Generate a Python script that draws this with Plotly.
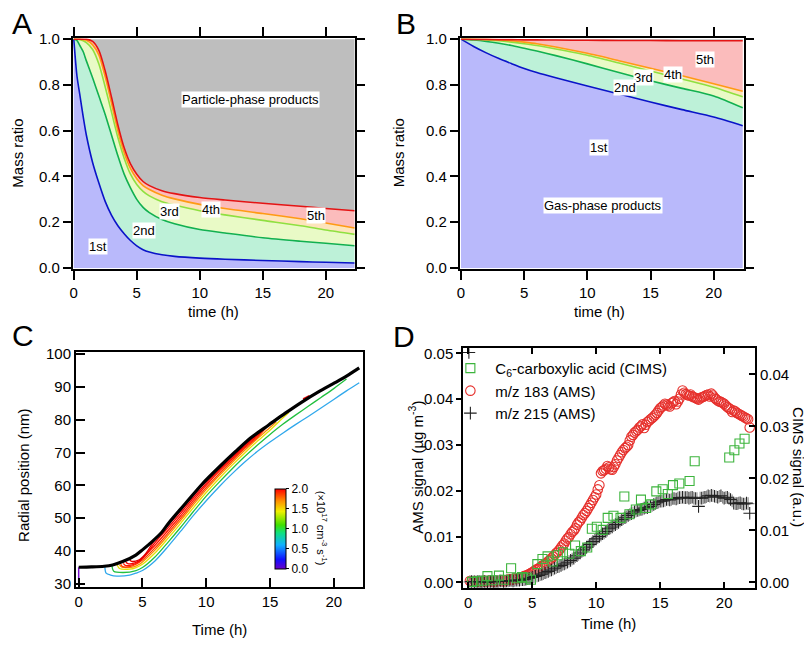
import plotly.graph_objects as go

# page body has an 8px default margin: the figure is drawn 8px right/down
OFF = 8
W, H = 812 - OFF, 647 - OFF
FONT = "Liberation Sans, Arial, Helvetica, sans-serif"


def px(x):
    return (x - OFF) / W


def py(y):
    return 1 - (y - OFF) / H


# ---------------- Panel A : mass ratio (particle) ----------------
a_time = [0, 0.25, 0.5, 0.75, 1, 1.5, 2, 2.5, 3, 3.5, 4, 4.5, 5, 5.5, 6, 7, 8, 10, 12, 15, 18, 20, 22.3]
a_1st = [1.0, 0.84, 0.75, 0.66, 0.58, 0.46, 0.37, 0.29, 0.23, 0.185, 0.15, 0.12, 0.097, 0.08, 0.07, 0.058, 0.051, 0.043, 0.038, 0.033, 0.028, 0.025, 0.022]
a_2nd = [1.0, 0.995, 0.97, 0.945, 0.905, 0.83, 0.75, 0.67, 0.58, 0.49, 0.41, 0.35, 0.30, 0.265, 0.242, 0.212, 0.193, 0.168, 0.153, 0.132, 0.117, 0.108, 0.097]
a_3rd = [1.0, 1.0, 0.998, 0.993, 0.985, 0.955, 0.89, 0.79, 0.68, 0.57, 0.48, 0.41, 0.365, 0.335, 0.315, 0.29, 0.275, 0.25, 0.232, 0.208, 0.185, 0.166, 0.147]
a_4th = [1.0, 1.0, 1.0, 0.998, 0.995, 0.975, 0.93, 0.835, 0.72, 0.60, 0.505, 0.435, 0.39, 0.36, 0.343, 0.318, 0.302, 0.278, 0.26, 0.238, 0.215, 0.197, 0.175]
a_5th = [1.0, 1.0, 1.0, 1.0, 1.0, 0.99, 0.95, 0.86, 0.745, 0.625, 0.525, 0.455, 0.41, 0.378, 0.36, 0.338, 0.325, 0.308, 0.297, 0.283, 0.27, 0.26, 0.25]
a_total = [1.0] * len(a_time)

# ---------------- Panel B : mass ratio (gas) ----------------
b_time = [0, 1, 2, 3, 4, 5, 6, 7.5, 10, 12.5, 15, 17.5, 20, 22.3]
b_1st = [1.0, 0.968, 0.94, 0.915, 0.893, 0.872, 0.854, 0.831, 0.795, 0.76, 0.725, 0.692, 0.66, 0.622]
b_2nd = [1.0, 0.996, 0.99, 0.982, 0.972, 0.96, 0.948, 0.928, 0.892, 0.854, 0.818, 0.785, 0.752, 0.70]
b_3rd = [1.0, 0.999, 0.997, 0.993, 0.987, 0.98, 0.972, 0.957, 0.93, 0.896, 0.861, 0.826, 0.79, 0.748]
b_4th = [1.0, 1.0, 0.999, 0.997, 0.993, 0.987, 0.98, 0.966, 0.938, 0.906, 0.873, 0.84, 0.805, 0.772]
b_5th = [1.0, 0.999, 0.999, 0.998, 0.998, 0.997, 0.997, 0.996, 0.995, 0.994, 0.994, 0.993, 0.993, 0.993]
b_total = [1.0] * len(b_time)

band_fill = ["#b9b9fb", "#bdf1d8", "#e9fac6", "#fde4bb", "#fbbcbc"]
band_line = ["#0a14c8", "#12b050", "#8fe040", "#ff9a14", "#e41414"]
top_fill = "#bebebe"

# ---------------- Panel C : radial position ----------------
c_black_t = [0, 1, 2, 2.66, 3.5, 4.48, 5, 5.78, 6.5, 7.08, 8.4, 9.69, 11.0, 12.3, 13.5, 14.9, 16.2, 17.5, 18.8, 20.1, 21, 22]
c_black_r = [35, 35.1, 35.3, 35.7, 36.8, 38.7, 40.3, 42.9, 45.6, 48.6, 54.6, 60.4, 65.5, 70.3, 74.5, 78.4, 82.0, 85.4, 88.5, 91.3, 93.3, 95.8]
c_purple_t = [0, 0]
c_purple_r = [29.5, 35]
c_cyan_t = [2.05, 2.15, 2.5, 3, 4, 4.5, 5, 6, 7, 8, 9, 10, 11, 12, 13, 14, 15, 16, 17, 18, 19, 20, 21, 22]
c_cyan_r = [35.2, 33.2, 32.6, 32.3, 32.6, 33.2, 34.0, 37.0, 41.3, 46.0, 50.8, 55.3, 59.5, 63.4, 67.0, 70.3, 73.2, 75.9, 78.5, 81.0, 83.6, 86.2, 88.8, 91.3]
c_green_t = [2.6, 2.75, 3.5, 4.5, 5, 6, 7, 8, 9, 10, 11, 12, 13, 14, 15, 16, 17, 18, 19, 20, 21]
c_green_r = [35.6, 33.8, 33.4, 34.0, 34.9, 38.2, 42.6, 47.2, 52.0, 56.7, 60.9, 64.9, 68.7, 72.2, 75.5, 78.6, 81.4, 84.1, 86.8, 89.5, 92.4]
c_yellow_t = [3.0, 3.2, 4, 4.5, 5, 6, 7, 8, 9, 10, 11, 12, 13, 14, 15, 16, 16.5]
c_yellow_r = [35.8, 34.6, 34.4, 34.9, 35.9, 39.4, 43.8, 48.4, 53.2, 57.8, 62.0, 66.0, 69.8, 73.4, 76.8, 80.5, 82.3]
c_orange_t = [3.2, 3.4, 4.3, 4.8, 5, 6, 7, 8, 9, 10, 11, 12, 13, 14, 15, 15.5]
c_orange_r = [35.8, 35.0, 35.1, 36.0, 36.6, 40.3, 44.7, 49.3, 54.1, 58.7, 62.9, 66.8, 70.6, 74.2, 77.6, 79.4]
c_red1_t = [3.3, 3.45, 4, 4.5, 5, 6, 7, 8, 9, 10, 11, 12, 13, 14, 14.7]
c_red1_r = [35.9, 35.2, 35.2, 35.9, 37.2, 41.0, 45.4, 50.0, 54.8, 59.3, 63.5, 67.4, 71.2, 74.6, 77.6]
c_red2_t = [3.5, 3.65, 4.2, 4.7, 5, 6, 7, 8, 9, 10, 11, 12, 13, 14, 14.7]
c_red2_r = [36.2, 35.6, 35.7, 36.6, 37.8, 41.8, 46.2, 50.7, 55.5, 60.0, 64.2, 67.9, 71.6, 75.0, 77.7]
c_red3_t = [3.7, 3.85, 4.4, 4.9, 5.2, 6, 7, 8, 9, 10, 11, 12, 13, 14, 14.6]
c_red3_r = [36.6, 36.1, 36.3, 37.4, 38.5, 42.6, 47.0, 51.5, 56.2, 60.6, 64.7, 68.4, 72.0, 75.4, 77.5]
c_red4_t = [4.0, 4.15, 4.7, 5.2, 6, 7, 8, 9, 10, 11, 12, 13, 14, 14.5]
c_red4_r = [37.2, 36.8, 37.2, 38.9, 43.5, 47.8, 52.2, 56.9, 61.2, 65.2, 68.9, 72.4, 75.7, 77.3]
c_red5_t = [17.6, 18.1]
c_red5_r = [86.3, 87.3]
c_colorbar_ticks = [0, 0.5, 1.0, 1.5, 2.0]

rainbow = [[0.0, "#6a00c8"], [0.12, "#1010ff"], [0.3, "#10b0ff"], [0.45, "#10e080"],
           [0.55, "#40e000"], [0.72, "#f0f000"], [0.85, "#ff9000"], [1.0, "#ff0000"]]

# ---------------- Panel D : AMS / CIMS signals ----------------
d_grid = [round(0.25 * i, 3) for i in range(1, 89)]
d_grid_half = [round(0.25 * i + 0.125, 3) for i in range(0, 88)]
mz183 = [0.0002, 0.0003, 0.0001, 0.0002, 0.0004, 0.0002, 0.0003, 0.0001, 0.0003, 0.0004, 0.0002, 0.0005,
         0.0006, 0.0008, 0.0007, 0.0010, 0.0012, 0.0015, 0.0018, 0.0022,
         0.0027, 0.0030, 0.0036, 0.0040, 0.0046, 0.0052, 0.0060, 0.0067,
         0.0076, 0.0085, 0.0096, 0.0105, 0.0113, 0.0126, 0.0135, 0.0147,
         0.0156, 0.0168, 0.0180, 0.0192, 0.0212, 0.0243, 0.0248, 0.0251,
         0.0246, 0.0258, 0.0272, 0.0284, 0.0293, 0.0300, 0.0318, 0.0327,
         0.0333, 0.0341, 0.0337, 0.0350, 0.0356, 0.0362, 0.0370, 0.0380,
         0.0386, 0.0388, 0.0384, 0.0393, 0.0389, 0.0401, 0.0419, 0.0411,
         0.0408, 0.0406, 0.0403, 0.0399, 0.0404, 0.0407, 0.0410, 0.0412,
         0.0403, 0.0397, 0.0394, 0.0390, 0.0383, 0.0378, 0.0375, 0.0370,
         0.0366, 0.0362, 0.0358, 0.0338]
mz183_half = [0.0003, 0.0001, 0.0002, 0.0003, 0.0002, 0.0001, 0.0004, 0.0002, 0.0002, 0.0003, 0.0004, 0.0003,
              0.0006, 0.0005, 0.0008, 0.0009, 0.0010, 0.0014, 0.0016, 0.0020,
              0.0024, 0.0029, 0.0033, 0.0038, 0.0043, 0.0049, 0.0056, 0.0064,
              0.0071, 0.0081, 0.0091, 0.0099, 0.0110, 0.0118, 0.0131, 0.0141,
              0.0151, 0.0162, 0.0174, 0.0186, 0.0203, 0.0238, 0.0245, 0.0254,
              0.0247, 0.0252, 0.0266, 0.0278, 0.0289, 0.0296, 0.0310, 0.0322,
              0.0330, 0.0338, 0.0345, 0.0344, 0.0353, 0.0359, 0.0366, 0.0375,
              0.0383, 0.0390, 0.0386, 0.0391, 0.0396, 0.0395, 0.0410, 0.0414,
              0.0409, 0.0410, 0.0404, 0.0401, 0.0402, 0.0405, 0.0409, 0.0406,
              0.0408, 0.0400, 0.0395, 0.0392, 0.0386, 0.0380, 0.0372, 0.0373,
              0.0368, 0.0364, 0.0360, 0.0356]
mz215_t = [0.05] + d_grid
mz215 = [0.0502,
         0.0002, 0.0001, 0.0002, 0.0001, 0.0002, 0.0000, 0.0002, 0.0001, 0.0002, 0.0003, 0.0002, 0.0003,
         0.0004, 0.0003, 0.0005, 0.0005, 0.0006, 0.0007, 0.0009, 0.0011,
         0.0013, 0.0015, 0.0018, 0.0021, 0.0024, 0.0027, 0.0031, 0.0034,
         0.0037, 0.0040, 0.0044, 0.0048, 0.0053, 0.0058, 0.0064, 0.0071,
         0.0077, 0.0083, 0.0089, 0.0095, 0.0100, 0.0106, 0.0111, 0.0117,
         0.0121, 0.0126, 0.0131, 0.0137, 0.0141, 0.0146, 0.0150, 0.0154,
         0.0157, 0.0159, 0.0162, 0.0163, 0.0166, 0.0170, 0.0174, 0.0177,
         0.0178, 0.0181, 0.0180, 0.0183, 0.0182, 0.0185, 0.0186, 0.0185,
         0.0184, 0.0186, 0.0183, 0.0166, 0.0184, 0.0186, 0.0189, 0.0190,
         0.0188, 0.0186, 0.0189, 0.0184, 0.0186, 0.0181, 0.0173, 0.0172,
         0.0174, 0.0171, 0.0173, 0.0151]
mz215_half = [0.0001, 0.0002, 0.0001, 0.0002, 0.0001, 0.0002, 0.0001, 0.0002, 0.0002, 0.0002, 0.0003, 0.0002,
              0.0003, 0.0004, 0.0004, 0.0005, 0.0006, 0.0006, 0.0008, 0.0010,
              0.0012, 0.0014, 0.0017, 0.0019, 0.0022, 0.0026, 0.0029, 0.0032,
              0.0035, 0.0039, 0.0042, 0.0046, 0.0051, 0.0056, 0.0061, 0.0067,
              0.0074, 0.0080, 0.0086, 0.0092, 0.0098, 0.0103, 0.0108, 0.0114,
              0.0119, 0.0124, 0.0128, 0.0134, 0.0139, 0.0143, 0.0148, 0.0152,
              0.0156, 0.0158, 0.0160, 0.0163, 0.0165, 0.0168, 0.0172, 0.0175,
              0.0177, 0.0179, 0.0181, 0.0181, 0.0183, 0.0184, 0.0185, 0.0185,
              0.0186, 0.0185, 0.0184, 0.0183, 0.0184, 0.0185, 0.0187, 0.0188,
              0.0189, 0.0187, 0.0188, 0.0186, 0.0185, 0.0183, 0.0178, 0.0172,
              0.0173, 0.0172, 0.0171, 0.0172]
cims_t = [0.3, 0.7, 1.1, 1.5, 1.9, 2.4, 2.8, 3.35, 3.8, 4.2, 4.6, 4.9, 5.4, 5.8, 6.2, 6.6, 7.0, 7.4, 7.9,
          8.35, 8.8, 9.3, 9.66, 10.05, 10.5, 10.9, 11.35, 11.9, 12.2, 12.6, 13.1, 13.5, 13.9, 14.3,
          14.7, 15.2, 15.6, 16.0, 16.5, 17.3, 17.7, 20.4, 20.8, 21.2, 21.6]
cims_c6 = [0.0001, 0.0002, 0.0003, 0.0012, 0.0004, 0.0013, 0.0005, 0.0027, 0.0008, 0.0010, 0.0009, 0.0005,
           0.0035, 0.0045, 0.0050, 0.0040, 0.0052, 0.0058, 0.0055, 0.0071, 0.0060, 0.0067, 0.0103,
           0.0107, 0.0101, 0.0124, 0.0128, 0.0124, 0.0165, 0.0131, 0.0140, 0.0159, 0.0143, 0.0150,
           0.0175, 0.0179, 0.0170, 0.0187, 0.0190, 0.0195, 0.0233, 0.0240, 0.0254, 0.0267, 0.0276]

fig = go.Figure()


def stacked(t, series, total, xa, ya):
    all_series = series + [total]
    fills = band_fill + [top_fill]
    for i, (vals, fc) in enumerate(zip(all_series, fills)):
        fig.add_trace(go.Scatter(x=t, y=vals, xaxis=xa, yaxis=ya, mode="lines",
                                 line=dict(width=0, shape="spline", smoothing=0.7),
                                 fill="tozeroy" if i == 0 else "tonexty", fillcolor=fc,
                                 hoverinfo="skip", showlegend=False))
    for vals, lc in zip(series, band_line):
        fig.add_trace(go.Scatter(x=t, y=vals, xaxis=xa, yaxis=ya, mode="lines",
                                 line=dict(width=1.6, color=lc, shape="spline", smoothing=0.7),
                                 showlegend=False))


stacked(a_time, [a_1st, a_2nd, a_3rd, a_4th, a_5th], a_total, "x", "y")
stacked(b_time, [b_1st, b_2nd, b_3rd, b_4th, b_5th], b_total, "x2", "y2")

# Panel C lines
c_lines = [
    (c_purple_t, c_purple_r, "#7a10d0", 1.5),
    (c_cyan_t, c_cyan_r, "#30a8ec", 1.3),
    (c_green_t, c_green_r, "#22c040", 1.3),
    (c_yellow_t, c_yellow_r, "#e6e000", 1.3),
    (c_orange_t, c_orange_r, "#ff8a00", 1.3),
    (c_red1_t, c_red1_r, "#ff3a00", 1.3),
    (c_red2_t, c_red2_r, "#ff1800", 1.3),
    (c_red3_t, c_red3_r, "#f40000", 1.3),
    (c_red4_t, c_red4_r, "#e00000", 1.3),
    (c_red5_t, c_red5_r, "#e00000", 2.0),
]
for t, r, col, w in c_lines:
    fig.add_trace(go.Scatter(x=t, y=r, xaxis="x3", yaxis="y3", mode="lines",
                             line=dict(color=col, width=w, shape="spline", smoothing=0.8),
                             showlegend=False))
fig.add_trace(go.Scatter(x=c_black_t, y=c_black_r, xaxis="x3", yaxis="y3", mode="lines",
                         line=dict(color="black", width=3.2, shape="spline", smoothing=0.8),
                         showlegend=False))
fig.add_trace(go.Scatter(
    x=[None], y=[None], xaxis="x3", yaxis="y3", mode="markers", showlegend=False,
    marker=dict(color=[0], cmin=0, cmax=2, colorscale=rainbow, showscale=True,
                colorbar=dict(x=px(273), xanchor="left", y=py(533), yanchor="middle",
                              len=80, lenmode="pixels", thickness=11, thicknessmode="pixels",
                              xpad=0, ypad=0, outlinecolor="black", outlinewidth=1,
                              tickvals=c_colorbar_ticks, ticktext=["0.0", "0.5", "1.0", "1.5", "2.0"],
                              ticks="outside", ticklen=3, tickcolor="black",
                              tickfont=dict(family=FONT, size=12, color="black")))))

# Panel D markers
fig.add_trace(go.Scatter(x=cims_t, y=cims_c6, xaxis="x4", yaxis="y5", mode="markers",
                         name="C<sub>6</sub>-carboxylic acid (CIMS)",
                         marker=dict(symbol="square-open", size=9, color="#3cb43c", line=dict(width=1.1))))
fig.add_trace(go.Scatter(x=d_grid + d_grid_half, y=mz183 + mz183_half, xaxis="x4", yaxis="y4", mode="markers",
                         name="m/z 183 (AMS)",
                         marker=dict(symbol="circle-open", size=9.5, color="#e6302c", line=dict(width=1.1))))
fig.add_trace(go.Scatter(x=d_grid_half, y=mz215_half, xaxis="x4", yaxis="y4", mode="markers",
                         showlegend=False,
                         marker=dict(symbol="cross-thin-open", size=9, color="#8a8a8a", line=dict(width=1.1, color="#8a8a8a"))))
fig.add_trace(go.Scatter(x=mz215_t, y=mz215, xaxis="x4", yaxis="y4", mode="markers",
                         name="m/z 215 (AMS)",
                         marker=dict(symbol="cross-thin-open", size=9, color="#222222", line=dict(width=1.1, color="#222222"))))

tickfont = dict(family=FONT, size=15, color="black")
base = dict(showline=True, linecolor="black", linewidth=1.5, showgrid=False, zeroline=False,
            tickfont=tickfont, tickcolor="black", tickwidth=1.5)
baseAB = dict(base, linewidth=2)

layout = dict(
    width=W, height=H, autosize=False, margin=dict(l=0, r=0, t=0, b=0),
    paper_bgcolor="white", plot_bgcolor="white",
    font=dict(family=FONT, size=15, color="black"),
    xaxis=dict(baseAB, domain=[px(70), px(353)], range=[-0.08, 22.3], tickvals=[0, 5, 10, 15, 20],
               ticks="outside", ticklen=9, mirror="ticks", anchor="y"),
    yaxis=dict(baseAB, domain=[py(267), py(31)], range=[-0.004, 1.003], tickvals=[0, 0.2, 0.4, 0.6, 0.8, 1.0],
               tickformat=".1f", ticks="outside", ticklen=8, mirror="ticks", anchor="x"),
    xaxis2=dict(baseAB, domain=[px(458.5), px(743.5)], range=[-0.095, 22.38], tickvals=[0, 5, 10, 15, 20],
                ticks="outside", ticklen=9, mirror="ticks", anchor="y2"),
    yaxis2=dict(baseAB, domain=[py(267), py(31)], range=[-0.004, 1.003], tickvals=[0, 0.2, 0.4, 0.6, 0.8, 1.0],
                tickformat=".1f", ticks="outside", ticklen=8, mirror="ticks", anchor="x2"),
    xaxis3=dict(base, domain=[px(73), px(361)], range=[-0.23, 22.27], tickvals=[0, 5, 10, 15, 20],
                ticks="inside", ticklen=9, mirror=True, anchor="y3"),
    yaxis3=dict(base, domain=[py(592.7), py(352.3)], range=[28.98, 100.6], tickvals=[30, 40, 50, 60, 70, 80, 90, 100],
                ticks="inside", ticklen=9, mirror=True, anchor="x3"),
    xaxis4=dict(base, domain=[px(461.7), px(755)], range=[-0.41, 22.43], tickvals=[0, 5, 10, 15, 20],
                ticks="inside", ticklen=6, mirror="ticks", anchor="y4"),
    yaxis4=dict(base, domain=[py(594), py(348.3)], range=[-0.00128, 0.0511],
                tickvals=[0, 0.01, 0.02, 0.03, 0.04, 0.05], tickformat=".2f",
                ticks="outside", ticklen=5, anchor="x4"),
    yaxis5=dict(base, overlaying="y4", side="right", range=[-0.00113, 0.0450],
                tickvals=[0, 0.01, 0.02, 0.03, 0.04], tickformat=".2f",
                ticks="inside", ticklen=6, anchor="x4"),
    legend=dict(x=px(444), y=py(352), xanchor="left", yanchor="top", bgcolor="rgba(0,0,0,0)",
                font=dict(family=FONT, size=15, color="black"), tracegroupgap=0, itemwidth=40,
                traceorder="normal"),
    showlegend=True,
)
fig.update_layout(**layout)

ann = []


def label(text, xa, ya, x, y, size=13):
    ann.append(dict(text=text, xref=xa, yref=ya, x=x, y=y, showarrow=False, bgcolor="white",
                    borderpad=0, font=dict(family=FONT, size=size, color="black")))


label("Particle-phase products", "x", "y", 14.06, 0.735)
label("1st", "x", "y", 1.95, 0.094)
label("2nd", "x", "y", 5.55, 0.165)
label("3rd", "x", "y", 7.6, 0.246)
label("4th", "x", "y", 10.93, 0.257)
label("5th", "x", "y", 19.2, 0.229)
label("5th", "x2", "y2", 19.29, 0.912)
label("4th", "x2", "y2", 16.8, 0.844)
label("3rd", "x2", "y2", 14.48, 0.833)
label("2nd", "x2", "y2", 12.98, 0.787)
label("1st", "x2", "y2", 10.9, 0.525)
label("Gas-phase products", "x2", "y2", 11.2, 0.274)


def ptext(text, x, y, size=15, angle=0):
    ann.append(dict(text=text, xref="paper", yref="paper", x=px(x), y=py(y), showarrow=False,
                    textangle=angle, xanchor="center", yanchor="middle",
                    font=dict(family=FONT, size=size, color="black")))


ptext("A", 19, 16, 30)
ptext("B", 404, 16, 30)
ptext("C", 20, 335, 30)
ptext("D", 402, 336, 30)
ptext("time (h)", 211, 311)
ptext("time (h)", 599, 311)
ptext("Mass ratio", 15, 148, angle=-90)
ptext("Mass ratio", 397, 148, angle=-90)
ptext("Radial position (nm)", 21, 478, angle=-90)
ptext("Time (h)", 217, 636)
ptext("AMS signal (µg m<sup>-3</sup>)", 414, 470, angle=-90)
ptext("Time (h)", 608, 630)
ptext("CIMS signal (a.u.)", 799, 470, angle=90)
ptext("(×10<sup>17</sup> cm<sup>-3</sup> s<sup>-1</sup>)", 320, 533, size=11, angle=90)

fig.update_layout(annotations=ann)
fig.write_html("out.html")
